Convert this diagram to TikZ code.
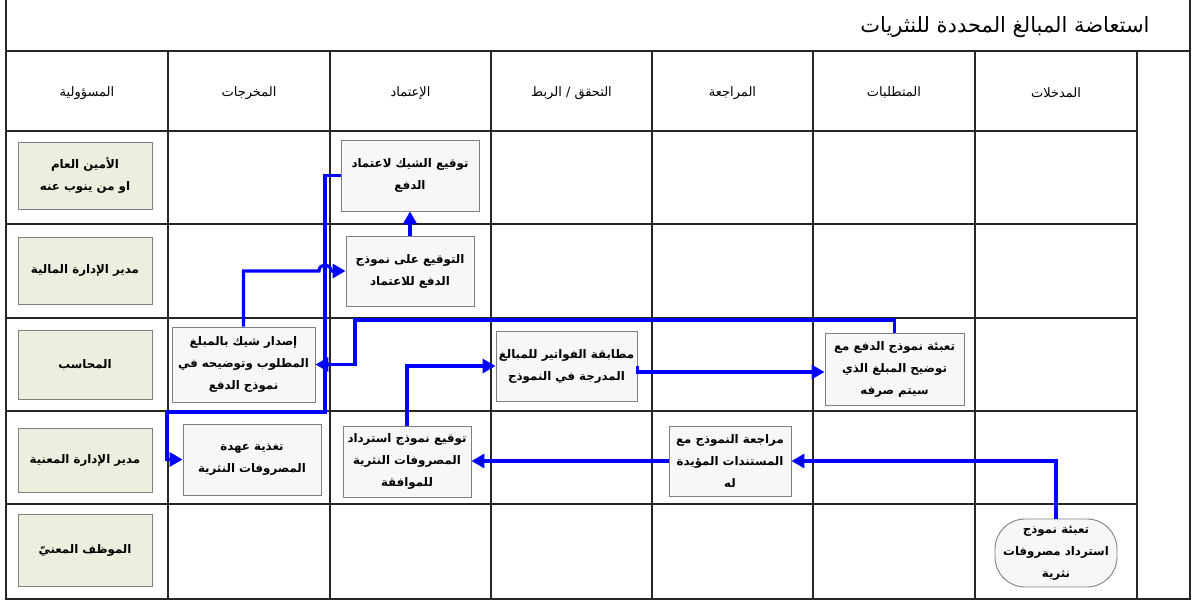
\documentclass[tikz,border=0pt]{standalone}
\usepackage{fontspec}
\usetikzlibrary{arrows.meta}
\TeXXeTstate=1
\newfontfamily\arabicfont[Script=Arabic]{DejaVu Sans}
\newcommand{\artxt}[1]{\beginR #1\endR}
\definecolor{flowblue}{RGB}{0,0,255}
\definecolor{rolefill}{RGB}{235,239,221}
\definecolor{stepfill}{RGB}{247,247,247}
\definecolor{boxline}{RGB}{128,128,128}
\tikzset{
  gridline/.style={line width=1.6pt, black!85},
  basebox/.style={draw=boxline, line width=0.9pt, rectangle, inner sep=0pt, align=center,
    font=\arabicfont\bfseries\fontsize{11.8}{22}\selectfont},
  rolebox/.style={basebox, fill=rolefill, minimum width=134pt},
  stepbox/.style={basebox, fill=stepfill},
  startbox/.style={basebox, fill=stepfill, rounded corners=30pt},
  headtxt/.style={font=\arabicfont\fontsize{13}{15}\selectfont},
  flow/.style={draw=flowblue, line width=3.2pt, -{Triangle[length=13pt,width=14pt]}},
}
\begin{document}
\begin{tikzpicture}[x=1pt,y=-1pt]
\useasboundingbox (0,0) rectangle (1192,600);
\fill[white] (0,0) rectangle (1192,600);
% frame and grid
\draw[gridline] (6,0) -- (6,599) -- (1190,599) -- (1190,0);
\draw[gridline] (6,51) -- (1190,51);
\foreach \xx in {168,330,491,652,813,975,1137} {\draw[gridline] (\xx,51) -- (\xx,599);}
\foreach \yy in {131,224,318,411,504} {\draw[gridline] (6,\yy) -- (1137,\yy);}
% title
\node[anchor=east, font=\arabicfont\fontsize{21}{24}\selectfont] (title) at (1153,27) {\artxt{استعاضة المبالغ المحددة للنثريات}};
% headers
\node[headtxt] (h1) at (87,93) {\artxt{المسؤولية}};
\node[headtxt] (h2) at (249,93) {\artxt{المخرجات}};
\node[headtxt] (h3) at (410.5,93) {\artxt{الإعتماد}};
\node[headtxt] (h4) at (571.5,93) {\artxt{التحقق / الربط}};
\node[headtxt] (h5) at (732.5,93) {\artxt{المراجعة}};
\node[headtxt] (h6) at (894,93) {\artxt{المتطلبات}};
\node[headtxt] (h7) at (1056,93) {\artxt{المدخلات}};
% role boxes
\node[rolebox, minimum height=67pt] (r1) at (85,175.5) {\artxt{الأمين العام}\\\artxt{او من ينوب عنه}};
\node[rolebox, minimum height=67pt] (r2) at (85,270.5) {\artxt{مدير الإدارة المالية}};
\node[rolebox, minimum height=69pt] (r3) at (85,364.5) {\artxt{المحاسب}};
\node[rolebox, minimum height=64pt] (r4) at (85,460) {\artxt{مدير الإدارة المعنية}};
\node[rolebox, minimum height=72pt] (r5) at (85,550.5) {\artxt{الموظف المعنيّ}};
% step boxes
\node[stepbox, minimum width=143pt, minimum height=75pt] (issue) at (243.5,364.5) {\artxt{إصدار شيك بالمبلغ}\\\artxt{المطلوب وتوضيحه في}\\\artxt{نموذج الدفع}};
\node[stepbox, minimum width=138pt, minimum height=71pt] (feed) at (252,459.5) {\artxt{تغذية عهدة}\\\artxt{المصروفات النثرية}};
\node[stepbox, minimum width=138pt, minimum height=71pt] (sign) at (410,175.5) {\artxt{توقيع الشيك لاعتماد}\\\artxt{الدفع}};
\node[stepbox, minimum width=128pt, minimum height=70pt] (signform) at (410,271) {\artxt{التوقيع على نموذج}\\\artxt{الدفع للاعتماد}};
\node[stepbox, minimum width=128pt, minimum height=71pt] (signref) at (407,461.5) {\artxt{توقيع نموذج استرداد}\\\artxt{المصروفات النثرية}\\\artxt{للموافقة}};
\node[stepbox, minimum width=141pt, minimum height=70pt] (match) at (566.5,366) {\artxt{مطابقة الفواتير للمبالغ}\\\artxt{المدرجة في النموذج}};
\node[stepbox, minimum width=122pt, minimum height=70pt] (review) at (730,461) {\artxt{مراجعة النموذج مع}\\\artxt{المستندات المؤيدة}\\\artxt{له}};
\node[stepbox, minimum width=139pt, minimum height=72pt] (fillform) at (894.5,369) {\artxt{تعبئة نموذج الدفع مع}\\\artxt{توضيح المبلغ الذي}\\\artxt{سيتم صرفه}};
\node[startbox, minimum width=122pt, minimum height=68pt] (start) at (1056,553) {\artxt{تعبئة نموذج}\\\artxt{استرداد مصروفات}\\\artxt{نثرية}};
% waypoints
\coordinate (a1) at (1056,461);
\coordinate (b1) at (894.5,320);
\coordinate (b2) at (355,320);
\coordinate (b3) at (355,364.5);
\coordinate (c1) at (325,175.5);
\coordinate (c2) at (325,412);
\coordinate (c3) at (167,412);
\coordinate (d1) at (243.5,271);
\coordinate (d2) at (319,271);
\coordinate (d3) at (331,271);
\coordinate (jn) at (325,364.5);
% connectors
\draw[flow] (start.north) -- (a1) -- (review.east);
\draw[flow] (review.west) -- (review.west -| signref.east);
\draw[flow] (signref.north) |- (match.west);
\draw[flow] (match.east) -- ++(0,6) coordinate (m1) -- (m1 -| fillform.west);
\draw[flow] (fillform.north) -- (b1) -- (b2) -- (b3) -- (issue.east);
\draw[flow] (sign.west) -- (c1) -- (c2) -- (c3) |- (feed.west);
\draw[flow] (issue.north) -- (d1) -- (d2) .. controls (319,263) and (331,263) .. (d3) -- (signform.west);
\draw[flow] (signform.north) -- (sign.south);
\fill[flowblue] (jn) circle (4.2pt);
\end{tikzpicture}
\end{document}
